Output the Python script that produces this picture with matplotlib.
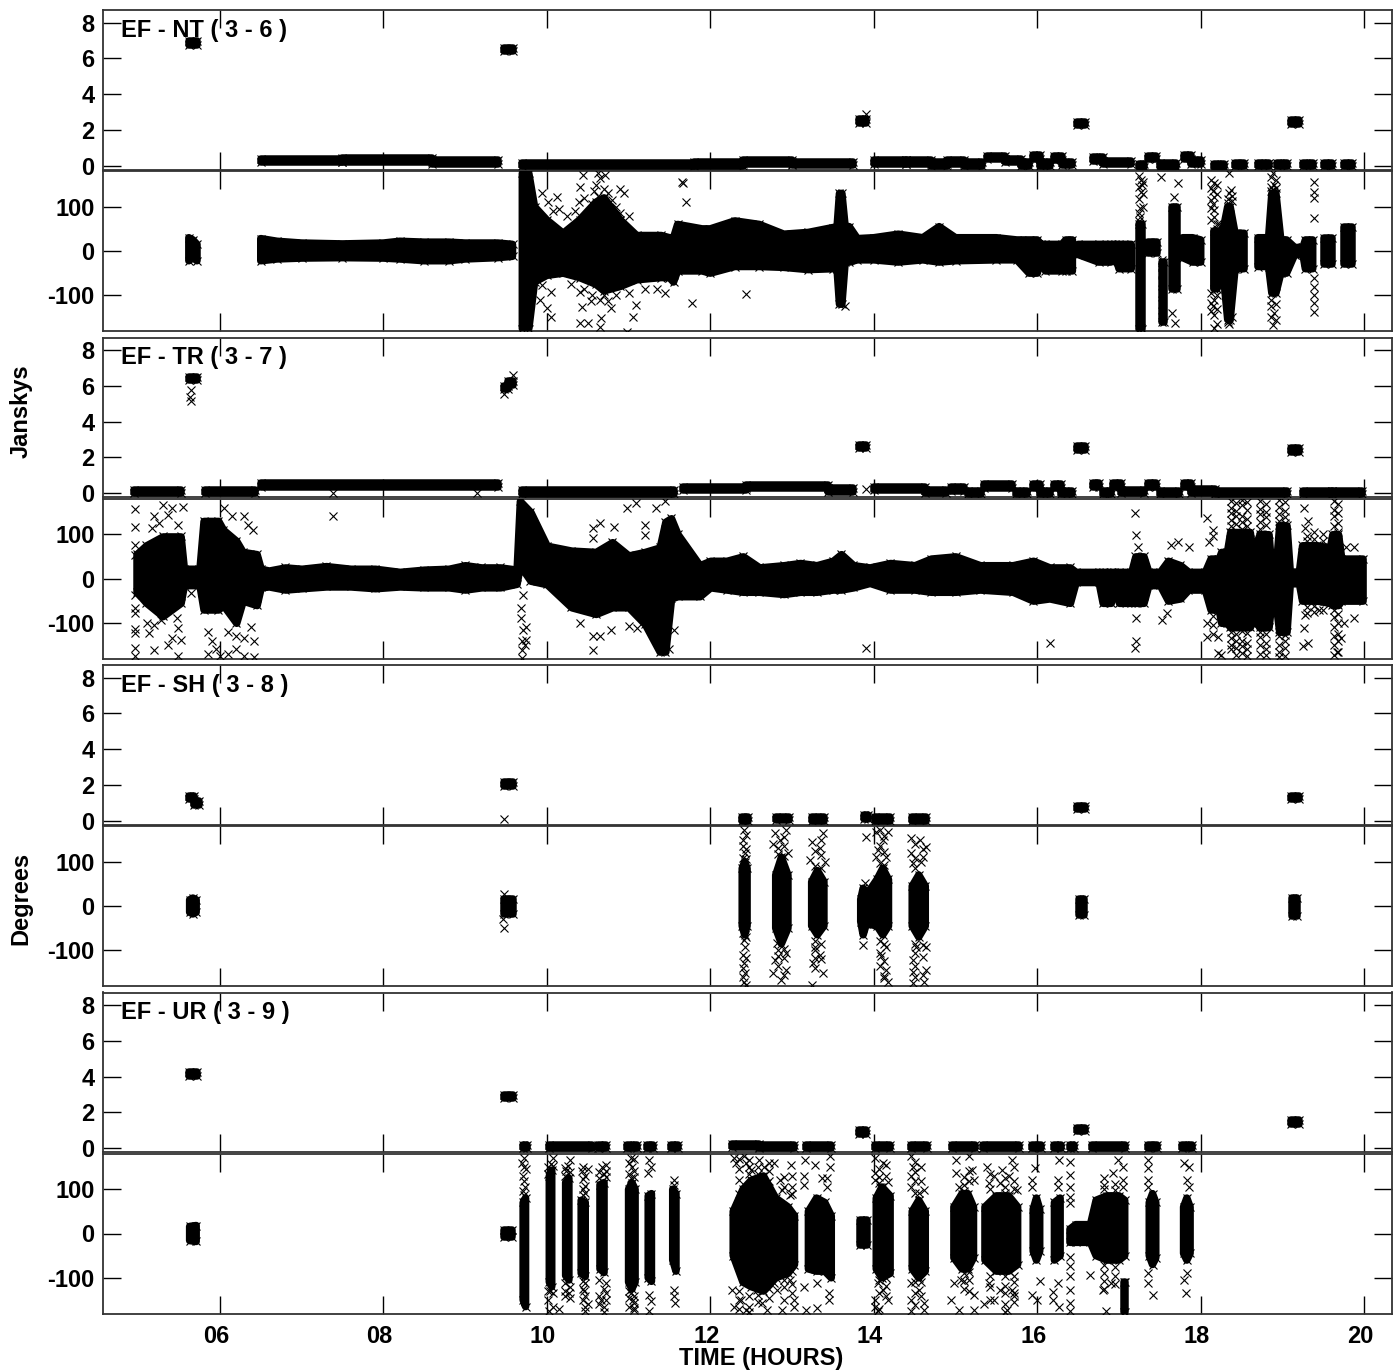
import numpy as np
import matplotlib
matplotlib.use('Agg')
import matplotlib.pyplot as plt
from matplotlib.transforms import ScaledTranslation

plt.rcParams['font.family'] = ['Liberation Sans', 'DejaVu Sans']
plt.rcParams['font.weight'] = 'bold'
plt.rcParams['axes.unicode_minus'] = False

nan = float('nan')
GAP = (nan, nan, nan)

# amplitude scans: start hour, end hour, Jy
NT_AMP = [(5.62, 5.72, 6.85), (9.48, 9.58, 6.5), (13.82, 13.9, 2.5), (16.49, 16.59, 2.37), (19.1, 19.2, 2.45),
          (6.5, 7.5, .3), (7.5, 8.6, .32), (8.6, 9.4, .22), (9.7, 11.8, .06), (11.8, 12.4, .1), (12.4, 13.0, .2),
          (13.0, 13.74, .12), (14.0, 14.4, .2), (14.4, 14.7, .22), (14.7, 14.9, .1), (14.9, 15.1, .2),
          (15.1, 15.33, .1), (15.38, 15.6, .45), (15.6, 15.8, .3), (15.8, 15.9, .1), (15.95, 16.03, .5),
          (16.03, 16.15, .1), (16.2, 16.3, .42), (16.3, 16.42, .12), (16.68, 16.8, .38), (16.8, 17.15, .18),
          (17.25, 17.3, .02), (17.36, 17.45, .45), (17.5, 17.7, .05), (17.79, 17.88, .5), (17.88, 18.0, .2),
          (18.16, 18.29, .02), (18.42, 18.53, .08), (18.7, 18.83, .08), (18.93, 19.05, .08), (19.25, 19.37, .08),
          (19.51, 19.6, .08), (19.75, 19.85, .08)]
TR_AMP = [(5.62, 5.72, 6.4), (9.48, 9.53, 5.9), (9.53, 9.58, 6.15), (13.82, 13.9, 2.6), (16.49, 16.59, 2.54),
          (19.1, 19.2, 2.43), (4.95, 5.52, .1), (5.82, 6.43, .1), (6.5, 9.4, .45), (9.7, 11.56, .08),
          (11.66, 12.44, .26), (12.44, 13.44, .37), (13.44, 13.74, .18), (14.0, 14.63, .26), (14.63, 14.88, .1),
          (14.95, 15.1, .25), (15.15, 15.31, .05), (15.35, 15.69, .4), (15.74, 15.88, .05), (15.95, 16.03, .42),
          (16.03, 16.15, .05), (16.2, 16.29, .42), (16.29, 16.42, .05), (16.68, 16.76, .45), (16.8, 16.9, .05),
          (16.93, 17.02, .45), (17.02, 17.31, .1), (17.36, 17.45, .45), (17.5, 17.74, .05), (17.79, 17.88, .45),
          (17.88, 18.18, .12), (18.18, 19.05, .03), (19.25, 19.61, .03), (19.61, 19.97, .05)]
SH_AMP = [(5.62, 5.68, 1.3), (5.68, 5.74, 1.0), (9.48, 9.58, 2.05), (12.39, 12.46, .1), (12.8, 12.96, .12),
          (13.24, 13.39, .1), (13.88, 13.93, .22), (14.02, 14.2, .1), (14.47, 14.64, .1), (16.49, 16.59, .75),
          (19.1, 19.2, 1.3)]
UR_AMP = [(5.62, 5.72, 4.15), (9.48, 9.58, 2.9), (13.82, 13.9, .9), (16.49, 16.59, 1.05), (19.1, 19.2, 1.45),
          (9.71, 9.76, .1), (10.03, 10.55, .1), (10.63, 10.72, .1), (10.98, 11.1, .1), (11.22, 11.3, .1),
          (11.52, 11.6, .1), (12.26, 12.6, .15), (12.6, 13.03, .1), (13.17, 13.48, .1), (14.01, 14.2, .1),
          (14.45, 14.65, .1), (14.96, 15.24, .1), (15.34, 15.78, .1), (15.93, 16.05, .1), (16.2, 16.29, .1),
          (16.4, 16.45, .1), (16.67, 17.07, .1), (17.35, 17.46, .1), (17.77, 17.89, .1)]

# dense phase envelopes: hour, upper deg, lower deg
NT_BAND = [(5.62, 30, -22), (5.67, 25, -15), (5.72, 15, -22), GAP,
           (6.5, 28, -22), (6.7, 22, -18), (7.0, 18, -16), (7.5, 16, -15), (8.0, 18, -16), (8.2, 22, -18),
           (8.5, 20, -22), (8.8, 20, -22), (9.0, 18, -18), (9.4, 18, -15), (9.58, 15, -12), GAP,
           (9.7, 175, -175), (9.78, 175, -175), (9.85, 100, -70), (10.0, 70, -55), (10.2, 40, -50), (10.4, 70, -60),
           (10.6, 110, -75), (10.7, 120, -90),
           (10.9, 70, -80), (11.1, 35, -65), (11.4, 35, -60), (11.5, 30, -60), (11.55, 30, -70), (11.6, 60, -45),
           (11.9, 50, -45), (12.0, 50, -50), (12.3, 68, -35), (12.6, 60, -35), (12.9, 38, -37), (13.2, 42, -42),
           (13.5, 53, -40), (13.55, 53, -40), (13.58, 130, -120), (13.61, 130, -120), (13.65, 55, -25),
           (13.7, 55, -25), (13.8, 28, -20), (14.0, 30, -20), (14.3, 38, -25), (14.6, 30, -20), (14.8, 55, -25),
           (15.0, 30, -22), (15.5, 30, -20), (15.75, 25, -20), (15.9, 25, -50), (16.0, 25, -50), (16.05, 15, -20),
           (16.1, 15, -45), (16.3, 15, -45), (16.35, 25, -45), (16.43, 25, -45), GAP,
           (16.5, 15, -8), (16.75, 15, -25), (16.9, 15, -25), (16.95, 15, -8), (17.0, 15, -40), (17.15, 15, -40), GAP,
           (17.24, 60, -175), (17.28, 60, -175), GAP, (17.36, 20, -5), (17.47, 20, -5), GAP,
           (17.53, -25, -160), (17.55, -25, -160), GAP, (17.65, 100, -85), (17.71, 100, -85), GAP,
           (17.78, 30, -15), (17.9, 30, -25), (18.0, 25, -25), GAP,
           (18.16, 45, -85), (18.2, 45, -85), (18.27, 45, -40), (18.33, 100, -155), (18.36, 100, -155), (18.42, 40, -40),
           (18.53, 40, -40), GAP, (18.7, 30, -35), (18.83, 30, -35), (18.87, 130, -95), (18.92, 130, -95),
           (18.98, 25, -50), (19.05, 25, -50), (19.15, 8, -8), (19.25, 8, -8), (19.28, 25, -40), (19.37, 25, -40), GAP,
           (19.51, 30, -30), (19.6, 30, -30), GAP, (19.75, 55, -30), (19.85, 55, -30)]
TR_BAND = [(4.98, 55, -30), (5.1, 75, -55), (5.3, 95, -85), (5.52, 95, -55), (5.56, 22, -15), (5.75, 22, -15),
           (5.8, 130, -70), (5.98, 130, -70), (6.04, 110, -60), (6.2, 85, -100), (6.28, 60, -50), (6.45, 55, -60), (6.5, 22, -20),
           (6.6, 18, -18), (6.8, 25, -25), (7.0, 22, -22), (7.3, 28, -18), (7.6, 22, -18), (7.9, 22, -22),
           (8.2, 15, -18), (8.5, 20, -20), (8.8, 22, -20), (9.0, 30, -25), (9.2, 25, -20), (9.43, 25, -20),
           (9.63, 20, -12), (9.67, 175, 30), (9.8, 150, -5), (10.0, 74, -13), (10.3, 63, -65), (10.6, 60, -80),
           (10.8, 82, -65), (11.0, 52, -65), (11.2, 60, -103), (11.38, 70, -165), (11.45, 128, -165), (11.52, 136, -45),
           (11.6, 100, -40), (11.87, 30, -40), (12.0, 40, -20), (12.2, 40, -25), (12.4, 50, -30), (12.6, 25, -30),
           (12.9, 30, -35), (13.1, 35, -30), (13.3, 30, -30), (13.5, 40, -25), (13.6, 55, -25), (13.75, 30, -20),
           (13.95, 25, -10), (14.2, 35, -25), (14.5, 30, -25), (14.7, 45, -30), (15.0, 50, -30), (15.3, 30, -25),
           (15.7, 30, -30), (15.95, 40, -50), (16.15, 25, -45), (16.4, 25, -55), (16.47, 15, -8), (16.75, 15, -8),
           (16.8, 15, -55), (16.9, 15, -55), (16.94, 15, -15), (17.0, 15, -55), (17.15, 15, -55), (17.2, 50, -55), (17.3, 50, -55),
           (17.36, 15, -15), (17.5, 15, -15), (17.6, 40, -50), (17.75, 30, -45),
           (17.85, 15, -25), (18.05, 15, -25), (18.12, 45, -70), (18.22, 45, -70), (18.25, 60, -100), (18.32, 60, -100),
           (18.36, 105, -110), (18.6, 105, -110), (18.62, 80, -100), (18.68, 80, -100), (18.72, 100, -110), (18.83, 100, -110),
           (18.86, 30, -60), (18.92, 30, -60), (18.96, 120, -120), (19.05, 120, -120), (19.09, 15, -10), (19.2, 15, -10),
           (19.24, 75, -50), (19.42, 75, -50), (19.58, 70, -55), (19.61, 100, -60), (19.68, 100, -60), (19.72, 45, -50),
           (19.98, 45, -50)]
SH_BAND = [(5.63, 14, -14), (5.67, 18, -18), (5.71, 14, -14), GAP, (9.48, 15, -18), (9.58, 15, -18), GAP,
           (12.39, 85, -45), (12.42, 100, -65), (12.45, 85, -45), GAP, (12.8, 70, -50), (12.87, 110, -85), (12.95, 70, -50), GAP,
           (13.24, 55, -45), (13.31, 80, -65), (13.39, 55, -45), GAP, (13.84, 15, -35), (13.87, 40, -65), (13.91, 25, -40),
           (14.04, 60, -45), (14.11, 85, -65), (14.18, 60, -45), GAP, (14.47, 45, -45), (14.55, 70, -70), (14.63, 45, -45),
           GAP, (16.51, 15, -20), (16.57, 15, -20), GAP, (19.12, 18, -22), (19.18, 18, -22)]
UR_BAND = [(5.63, 16, -16), (5.71, 18, -18), GAP, (9.48, 8, -8), (9.57, 8, -8), GAP,
           (9.71, 70, -150), (9.74, 80, -165), GAP, (10.03, 130, -110), (10.06, 143, -120), GAP,
           (10.23, 115, -95), (10.27, 125, -105), GAP, (10.42, 75, -90), (10.47, 70, -97), GAP,
           (10.65, 110, -80), (10.7, 115, -88), GAP, (11.0, 100, -110), (11.04, 115, -125), (11.08, 100, -110), GAP,
           (11.24, 85, -100), (11.28, 90, -108), GAP, (11.54, 100, -60), (11.58, 90, -85), GAP,
           (12.28, 50, -50), (12.4, 100, -110), (12.5, 120, -120), (12.65, 130, -130), (12.8, 80, -100), (12.95, 60, -90), (13.03, 40, -70), GAP,
           (13.2, 50, -80), (13.3, 80, -85), (13.4, 70, -85), (13.48, 40, -100), GAP, (13.83, 30, -25), (13.92, 30, -25), GAP,
           (14.03, 80, -80), (14.1, 105, -100), (14.2, 85, -90), GAP, (14.47, 50, -80), (14.55, 75, -100), (14.63, 50, -85), GAP,
           (14.98, 60, -55), (15.08, 90, -80), (15.15, 90, -80), (15.22, 60, -55), GAP, (15.36, 60, -60), (15.5, 85, -85), (15.65, 85, -85),
           (15.76, 60, -70), GAP,
           (15.95, 55, -40), (15.99, 80, -60), (16.03, 55, -40), GAP, (16.21, 70, -60), (16.28, 80, -50), GAP,
           (16.4, 10, -20), (16.47, 20, -20), (16.65, 20, -20), (16.72, 75, -50), (16.85, 85, -60), (17.0, 85, -60), (17.07, 75, -50), GAP,
           (17.06, -110, -178), (17.07, -110, -178), GAP, (17.37, 70, -50), (17.41, 90, -70), (17.45, 70, -55), GAP,
           (17.79, 60, -45), (17.83, 80, -60), (17.87, 60, -45)]

# single crosses that stand clear of the dense part: hour, value
NT_AMP_PTS = [(13.9, 2.9)]
TR_AMP_PTS = [(5.65, 5.79), (5.65, 5.14), (5.63, 5.4), (9.58, 6.59), (9.48, 5.55), (7.38, .02), (13.9, .26), (9.14, 0)]
SH_AMP_PTS = [(9.47, .1)]
UR_AMP_PTS = []

NT_PTS = [(9.94, 130), (10.13, 122), (10.08, 91), (10.41, 145), (10.44, 171), (10.63, 175), (10.71, 171), (10.9, 141),
          (10.94, 132), (11.65, 155), (11.66, 153), (11.7, 111), (10.39, 111), (9.94, -77), (10.05, -92), (9.92, -110),
          (10.0, -129), (10.05, -148), (10.41, -163), (10.5, -162), (10.65, -171), (10.66, -152), (10.43, -126),
          (10.54, -114), (10.65, -110), (10.79, -129), (11.09, -122), (11.06, -148), (10.98, -182), (11.78, -117),
          (11.44, -95), (10.7, -100), (10.41, -92), (10.6, 150), (10.65, 165), (10.7, 140), (10.75, 130), (10.8, 115),
          (10.85, 100), (10.58, 135), (10.63, 125), (12.44, -98), (13.65, -124), (17.27, 160), (17.28, 150), (17.27, 134),
          (17.26, 96), (17.26, 77), (17.27, -174), (17.51, 168), (17.72, 153), (17.67, 122), (17.65, -141), (17.69, -162),
          (18.16, 153), (18.15, 135), (18.16, 122), (18.15, 107), (18.16, 92), (18.16, 77), (18.16, -110), (18.15, -125),
          (18.16, -144), (18.16, -174), (18.35, 175), (18.35, 130), (18.37, 138), (18.89, 175), (18.89, -167),
          (18.9, -140), (19.38, 156), (19.38, 134), (19.38, 120), (19.38, 74), (19.38, -60), (19.38, -82), (19.38, -100),
          (19.38, -118), (19.38, -138), (18.2, 50), (18.22, 60), (18.9, 150), (18.88, 138), (18.35, -165), (10.02, 110),
          (10.15, 95), (10.25, 80), (10.35, 90), (10.45, 120), (10.55, 105), (10.9, 85), (11.0, 80), (10.3, -75), (10.45, -85),
          (10.55, -100), (10.75, -112), (10.85, -100), (11.0, -95), (11.2, -85), (11.35, -85)]
TR_PTS = [(4.96, 158), (4.96, 117), (4.96, 76), (4.96, 53), (4.96, -37), (4.96, -67), (4.96, -78), (4.96, -115),
          (4.96, -123), (4.96, -157), (4.96, -176), (5.19, 140), (5.3, 166), (5.41, 159), (5.55, 162), (5.17, 113),
          (5.36, 144), (5.49, 121), (5.25, 125), (5.11, -101), (5.19, -105), (5.13, -123), (5.19, -161), (5.36, -150),
          (5.41, -135), (5.52, -138), (5.49, -112), (5.49, -176), (5.28, -93), (5.47, -89), (5.65, -33), (5.85, -120),
          (5.9, -140), (5.95, -160), (5.85, -170), (6.0, -175), (6.1, -170), (6.2, -160), (6.3, -175), (6.42, -178),
          (6.1, -120), (6.2, -130), (6.3, -135), (6.42, -140), (6.38, -110), (6.05, 160), (6.15, 140), (6.3, 140),
          (6.35, 120), (6.4, 110), (7.38, 140), (9.71, -37), (9.69, -67), (9.69, -90), (9.71, -116), (9.75, -110),
          (9.7, -142), (9.75, -138), (9.73, -150), (9.7, -161), (9.7, -180), (10.65, 125), (10.57, 113), (10.82, 117),
          (10.57, 91), (10.57, -130), (10.65, -130), (10.57, -161), (10.79, -116), (10.4, -101), (10.98, 159), (11.09, 170),
          (11.2, 121), (11.2, 98), (11.34, 159), (11.45, 174), (11.55, -116), (11.0, -108), (11.1, -112), (11.5, -160),
          (13.9, -157), (16.16, -146), (17.2, 147), (17.21, 98), (17.23, 72), (17.21, -89), (17.21, -142), (17.2, -157),
          (17.53, -93), (17.59, -78), (17.64, 76), (17.72, 83), (17.86, 70), (18.08, 136), (18.1, 83), (18.08, -101),
          (18.08, -131), (18.21, -131), (18.21, -168), (18.25, -172), (19.26, 159), (19.31, 129), (19.28, 114), (19.26, -112),
          (19.31, -146), (19.25, -153), (19.28, -82), (19.45, -71), (19.88, 72), (19.88, -89), (19.72, -135), (19.67, -165),
          (19.75, -100), (19.78, 70)]
SH_PTS = [(9.47, 28), (9.47, -50), (9.46, -30), (12.41, 171), (12.4, 149), (12.42, 119), (12.41, -77), (12.42, -92),
          (12.41, -129), (12.42, -152), (12.41, -171), (12.79, 164), (12.93, 171), (12.85, 149), (12.77, 141), (12.95, 119),
          (12.81, -84), (12.93, -107), (12.79, -122), (12.77, -152), (12.93, -144), (12.87, -167), (13.38, 164), (13.24, 145),
          (13.34, 130), (13.4, 100), (13.22, 104), (13.28, -92), (13.34, -110), (13.26, -129), (13.38, -152), (13.25, -178),
          (13.9, 156), (13.89, 51), (13.87, -88), (14.03, 168), (14.17, 168), (14.11, 149), (14.05, 126), (14.15, 111),
          (14.03, 111), (14.15, -92), (14.09, -114), (14.15, -144), (14.13, -159), (14.17, -171), (14.46, 153), (14.56, 149),
          (14.64, 134), (14.46, 119), (14.58, 100), (14.48, 96), (14.52, -92), (14.64, -92), (14.48, -122), (14.48, -148),
          (14.64, -144), (14.48, -174), (14.62, -171)]
UR_PTS = [(9.7, 160), (9.74, 145), (9.71, 130), (9.73, 105), (9.71, 95), (10.05, 158), (10.26, 152), (10.24, 140),
          (10.43, 140), (10.5, 145), (10.68, 150), (10.7, 135), (11.03, 170), (11.04, 150), (11.03, 125), (11.25, 166),
          (11.27, 151), (11.24, 136), (11.56, 121), (11.55, 110), (10.04, -130), (10.03, -175), (10.22, -130), (10.27, -135),
          (10.15, -170), (10.45, -130), (10.5, -160), (10.47, -175), (10.7, -125), (10.66, -150), (10.7, -165), (10.7, -178),
          (11.03, -135), (11.05, -150), (11.07, -168), (11.25, -138), (11.27, -153), (11.25, -176), (11.56, -127), (11.55, -142),
          (11.57, -157), (12.29, 170), (12.32, 159), (12.41, 174), (12.44, 159), (12.5, 144), (12.6, 166), (12.66, 151), (12.78, 159),
          (12.69, 114), (12.85, 121), (12.99, 154), (13.0, 106), (12.97, 87), (12.88, 98), (12.27, -127), (12.29, -165), (12.38, -150),
          (12.44, -172), (12.57, -127), (12.63, -157), (12.69, -172), (12.78, -112), (12.88, -172), (13.03, -150), (13.03, -165),
          (12.82, -127), (12.97, -105), (13.16, 166), (13.28, 154), (13.15, 129), (13.15, 110), (13.37, 125), (13.46, 174), (13.46, 151),
          (13.43, 125), (13.43, 106), (13.15, -120), (13.31, -112), (13.17, -172), (13.31, -168), (13.45, -135), (13.45, -150),
          (14.02, 170), (14.11, 159), (14.02, 136), (14.02, 121), (14.08, 106), (14.17, 117), (14.05, -112), (14.11, -127), (14.17, -150),
          (14.02, -150), (14.02, -165), (14.05, -176), (14.45, 174), (14.48, 151), (14.45, 129), (14.45, 106), (14.55, 91), (14.61, 98),
          (14.45, -112), (14.55, -127), (14.45, -150), (14.61, -157), (14.61, -172), (14.45, -176), (15.01, 166), (15.01, 136),
          (15.17, 174), (15.2, 144), (15.04, 106), (15.23, 121), (14.98, -112), (14.95, -150), (15.04, -172), (15.23, -138),
          (15.23, -172), (15.35, -160), (15.07, -105), (15.38, 151), (15.47, 129), (15.57, 144), (15.69, 166), (15.66, 129), (15.75, 98),
          (15.54, 114), (15.41, 114), (15.41, -112), (15.54, -127), (15.72, -142), (15.47, -150), (15.63, -172), (15.6, -178),
          (15.69, -127), (15.97, 147), (15.94, 121), (15.94, 106), (16.03, -108), (15.94, -138), (16.0, -150), (16.27, 166),
          (16.25, 121), (16.25, 106), (16.25, -112), (16.19, -131), (16.19, -150), (16.27, -165), (16.4, 162), (16.4, 132), (16.4, 106),
          (16.4, 83), (16.4, 68), (16.4, -52), (16.4, -74), (16.4, -97), (16.4, -127), (16.4, -157), (16.4, -176), (16.82, 125),
          (16.93, 136), (16.99, 166), (17.05, 151), (17.05, 121), (17.05, 106), (16.65, -93), (16.81, -127), (16.84, -176), (16.9, -112),
          (17.36, 166), (17.36, 147), (17.36, 121), (17.36, 106), (17.36, -89), (17.36, -112), (17.41, -138), (17.8, 159), (17.86, 151),
          (17.83, 121), (17.86, 106), (17.83, -89), (17.8, -105), (17.82, -135)]

# columns of crosses above and below a scan: hour, values
NT_STACKS = [(17.25, [170, 145, 118, 85, 68]), (17.29, [155, 128, 100]), (18.13, [160, 143, 115, 98, 70, -95, -118, -135]),
             (18.2, [148, 128, 60, -100, -130, -165]), (18.33, [118, 108, -160]), (18.38, [125, 112, -150]),
             (18.86, [168, 145, 135, -110, -125, -150]), (18.92, [160, 142, -120, -155]), (17.53, [-20, -35, -50, -70, -95, -120, -150])]
TR_STACKS = [(18.37, [176, 160, 148, 131, 118, -120, -135, -150, -160]), (18.43, [170, 152, 140, 122, -125, -142, -158, -172]),
             (18.5, [178, 165, 142, 128, 112, -118, -140, -152, -168]), (18.57, [172, 155, 135, 118, -122, -145, -160, -175]),
             (18.73, [175, 158, 146, 128, 112, -120, -132, -150, -170]), (18.8, [168, 150, 138, 120, -125, -145, -160, -172]),
             (18.96, [178, 162, 145, 130, -130, -150, -165, -178]), (19.03, [172, 152, 138, 125, -128, -142, -158, -175]),
             (19.63, [175, 155, 140, 118, -70, -88, -110, -130, -150, -172]), (19.68, [168, 148, 125, 105, -80, -100, -125, -142, -165]),
             (18.15, [110, 95, -85, -105, -125]), (19.3, [95, 85, -65, -78]), (19.38, [105, 90, -62, -75]), (19.5, [85, 100, -70])]
SH_STACKS = [(12.4, [135, 108, -60, -110, -140, -160]), (12.44, [160, 128, 105, -70, -118, -178]), (12.83, [130, 118, -100, -112, -135]),
             (12.9, [155, 135, 112, -98, -118, -155]), (13.28, [125, 90, -80, -100, -118, -140]), (13.35, [148, 115, 85, -85, -120]),
             (14.08, [172, 135, 98, -80, -105, -135]), (14.13, [158, 122, 92, -85, -125, -162]), (14.5, [140, 108, 85, -85, -105, -135, -160]),
             (14.6, [128, 110, -88, -115, -155])]
UR_STACKS = [(9.72, [170, 150, 118, 88], ), (10.02, [150, 135, -130, -150]), (10.07, [170, 152, -135, -165]),
             (10.28, [165, 138, -120, -145]), (10.22, [148, 130, -112, -142]), (10.44, [150, 122, 100, 88, -108, -125, -150]),
             (10.47, [130, 108, 92, -112, -140, -165]), (10.64, [138, 125, -105, -140, -160]), (10.72, [155, 140, 128, -112, -135, -150]),
             (11.0, [160, 135, -130, -145, -165]), (11.07, [168, 142, 128, -140, -158, -172]), (12.35, [168, 145, 120, 90, -130, -150, -170]),
             (12.47, [165, 150, 135, -140, -165, -178]), (12.58, [150, 135, -138, -155]), (12.72, [160, 142, 118, -110, -125, -145]),
             (12.9, [128, 105, -105, -120, -150]), (13.0, [130, 90, -85, -115, -135]), (14.06, [145, 128, 115, -105, -135, -170]),
             (14.15, [155, 130, -100, -118, -140]), (14.5, [162, 138, 118, 92, -110, -135, -162]), (14.58, [150, 118, -110, -142]),
             (15.1, [128, 110, 95, -90, -108, -125]), (15.17, [140, 118, -88, -105, -130]), (15.42, [135, 100, -95, -120, -150]),
             (15.6, [125, 105, 92, -95, -118, -135, -160]), (15.72, [150, 118, 100, -95, -110, -135, -155]),
             (16.82, [110, 100, -72, -90, -108, -125]), (16.95, [112, 98, -75, -95, -115])]

PANELS = [('EF - NT ( 3 - 6 )', NT_AMP, NT_AMP_PTS, NT_BAND, NT_PTS, NT_STACKS),
          ('EF - TR ( 3 - 7 )', TR_AMP, TR_AMP_PTS, TR_BAND, TR_PTS, TR_STACKS),
          ('EF - SH ( 3 - 8 )', SH_AMP, SH_AMP_PTS, SH_BAND, SH_PTS, SH_STACKS),
          ('EF - UR ( 3 - 9 )', UR_AMP, UR_AMP_PTS, UR_BAND, UR_PTS, UR_STACKS)]
HOURS = [6, 8, 10, 12, 14, 16, 18, 20]
HOUR_LABELS = ['06', '08', '10', '12', '14', '16', '18', '20']
AMP_TICKS = [0, 2, 4, 6, 8]
PHASE_TICKS = [-100, 0, 100]

W, H = 1394, 1371
FS = 17
EDGE = 5.4      # stroke round a dense patch, about one cross wide


def make_axes(top, bottom):
    ax = fig.add_axes([103 / W, 1 - bottom / H, 1289 / W, (bottom - top) / H])
    ax.set_xlim(4.57, 20.34)
    ax.set_xticks(HOURS)
    ax.set_xticklabels([])
    ax.tick_params(direction='in', length=13, width=1, top=True, right=True, labelsize=FS, pad=6)
    for s in ax.spines.values():
        s.set_linewidth(1.3)
        s.set_color('#333333')
    return ax


def crosses(ax, t, y):
    ax.plot(t, y, ls='none', marker='x', ms=5.8, mew=.8, color='k', zorder=3)


def draw_band(ax, rows):
    t, hi, lo = np.array(rows, dtype=float).T
    ax.fill_between(t, lo, hi, facecolor='k', edgecolor='k', lw=EDGE, joinstyle='round', zorder=3)
    crosses(ax, t, hi)
    crosses(ax, t, lo)


def draw_amp(ax, rows):
    for t0, t1, y in rows:
        ax.fill_between([t0, t1], y - .1, y + .1, facecolor='k', edgecolor='k', lw=EDGE, joinstyle='round', zorder=3)
        crosses(ax, [t0, t1, t0, t1], [y - .1, y - .1, y + .1, y + .1])


def draw_pts(ax, rows):
    if rows:
        t, y = np.array(rows, dtype=float).T
        crosses(ax, t, y)


def draw_stacks(ax, rows):
    for row in rows:
        crosses(ax, [row[0]] * len(row[1]), row[1])


fig = plt.figure(figsize=(W / 100, H / 100), dpi=100)

for i, (name, amp, amp_pts, band, pts, stacks) in enumerate(PANELS):
    y0 = 10 + 327.5 * i
    ax1 = make_axes(y0, y0 + 159.5)
    ax1.set_ylim(-.21, 8.7)
    ax1.set_yticks(AMP_TICKS)
    draw_amp(ax1, amp)
    draw_pts(ax1, amp_pts)
    fig.text(121 / W, 1 - (y0 + 20) / H, name, fontsize=FS, va='center', zorder=5)

    ax2 = make_axes(y0 + 161, y0 + 321)
    ax2.set_ylim(-180.6, 180.6)
    ax2.set_yticks(PHASE_TICKS)
    draw_band(ax2, band)
    draw_pts(ax2, pts)
    draw_stacks(ax2, stacks)

ax2.set_xticklabels(HOUR_LABELS)
ax2.tick_params(axis='x', pad=8)
shift = ScaledTranslation(-4 / 100, 0, fig.dpi_scale_trans)
for lab in ax2.get_xticklabels():
    lab.set_transform(lab.get_transform() + shift)

fig.text(21 / W, 1 - 411 / H, 'Janskys', fontsize=FS, rotation=90, ha='center', va='center')
fig.text(21 / W, 1 - 898 / H, 'Degrees', fontsize=FS, rotation=90, ha='center', va='center')
fig.text(761 / W, 1 - 1358 / H, 'TIME (HOURS)', fontsize=FS, ha='center', va='center')

fig.savefig('out.png', dpi=100)
